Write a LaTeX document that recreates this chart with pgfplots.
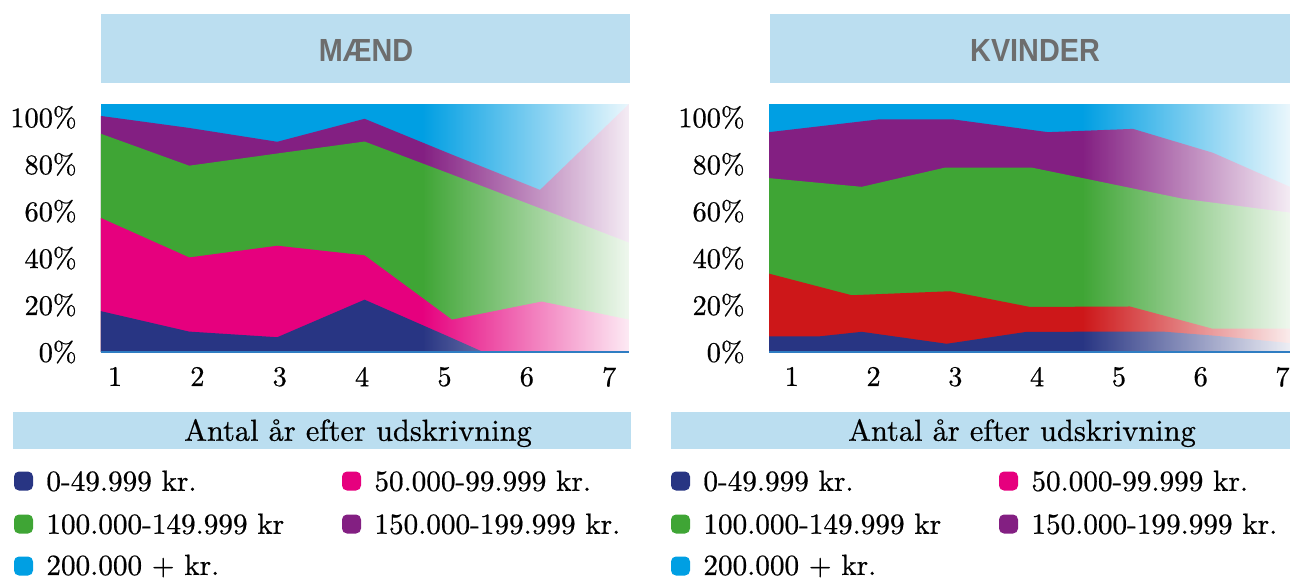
\documentclass[border=0pt]{standalone}
\usepackage{fontspec}
\setmainfont{lmroman10-regular.otf}[FakeBold=0.6]
\usepackage{graphicx}
\usepackage{pgfplots}
\pgfplotsset{compat=1.18}
\usetikzlibrary{fadings}
\newfontfamily\titlefont{Liberation Sans}
\definecolor{cdblue}{HTML}{283583}
\definecolor{cpink}{HTML}{E6007E}
\definecolor{cred}{HTML}{CD1719}
\definecolor{cgreen}{HTML}{3FA535}
\definecolor{cpurple}{HTML}{831F82}
\definecolor{clblue}{HTML}{009FE3}
\definecolor{cbox}{HTML}{BBDEF0}
\definecolor{ctitle}{HTML}{6D6D6D}
\definecolor{caxis}{HTML}{2F7DC2}
\tikzfading[name=fadeR, left color=transparent!100, right color=transparent!8]
\pgfplotsset{
  panel/.style={
    scale only axis, height=124pt,
    ymin=0, ymax=105.7,
    clip=false,
    axis line style={draw=none},
    major tick length=0pt,
    ytick={0,20,40,60,80,100},
    yticklabels={0\%,20\%,40\%,60\%,80\%,100\%},
    xtick={1,2,3,4,5,6,7},
    xticklabels={1,2,3,4,5,6,7},
    tick label style={font=\fontsize{14.2}{16}\selectfont},
    yticklabel style={anchor=east, inner sep=0pt, xshift=-12pt},
    xticklabel style={anchor=north, inner sep=0pt, yshift=-7.3pt},
  }
}
\newcommand\legitem[4]{%
  \fill[#3, rounded corners=2.5pt] (#1,#2-9.5) rectangle ++(19,19);
  \node[anchor=west, inner sep=0pt, font=\fontsize{14.6}{16}\selectfont] at (#1+32,#2) {#4};
}
\begin{document}
\begin{tikzpicture}
\useasboundingbox (0,0) rectangle (645pt,-290pt);
\begin{scope}[x=0.5pt,y=-0.5pt]
  \fill[cbox] (101,14) rectangle (630,83);
  \fill[cbox] (770,14) rectangle (1290,83);
  \node[text=ctitle, font=\titlefont\bfseries\fontsize{16}{16}\selectfont] at (366,50) {\scalebox{0.9}[1]{MÆND}};
  \node[text=ctitle, font=\titlefont\bfseries\fontsize{16}{16}\selectfont] at (1035,50) {\scalebox{0.9}[1]{KVINDER}};
  \fill[cbox] (13,412) rectangle (631,449);
  \fill[cbox] (671,412) rectangle (1290,449);
  \node[font=\fontsize{15.2}{17}\selectfont] at (358,433) {Antal år efter udskrivning};
  \node[font=\fontsize{15.2}{17}\selectfont] at (1022,433) {Antal år efter udskrivning};
  \foreach \dx in {0,657}{
    \legitem{14+\dx}{481}{cdblue}{0-49.999 kr.}
    \legitem{342+\dx}{481}{cpink}{50.000-99.999 kr.}
    \legitem{14+\dx}{524}{cgreen}{100.000-149.999 kr}
    \legitem{342+\dx}{524}{cpurple}{150.000-199.999 kr.}
    \legitem{14+\dx}{566}{clblue}{200.000 + kr.}
  }
\end{scope}

% ---------------- MAEND ----------------
\begin{axis}[panel, at={(50.5pt,-176pt)}, anchor=south west,
  width=264pt, xmin=0.83, xmax=7.24]
  % 200.000 + kr. (to the top)
  \addplot[fill=clblue, draw=none] coordinates {(0.83,105.7) (7.24,105.7)} \closedcycle;
  % top of 150.000-199.999
  \addplot[fill=cpurple, draw=none] coordinates {
    (0.83,100.6) (1.90,95.5) (2.97,89.6) (4.03,99.4) (5.10,84.0) (6.16,69.1) (7.24,105.7)} \closedcycle;
  % top of 100.000-149.999
  \addplot[fill=cgreen, draw=none] coordinates {
    (0.83,93.0) (1.90,79.4) (2.97,84.6) (4.03,89.7) (5.10,75.5) (6.17,61.1) (7.24,46.6)} \closedcycle;
  % top of 50.000-99.999
  \addplot[fill=cpink, draw=none] coordinates {
    (0.83,57.1) (1.90,40.3) (2.97,45.3) (4.03,41.2) (5.09,13.8) (6.18,21.5) (7.24,13.8)} \closedcycle;
  % top of 0-49.999
  \addplot[fill=cdblue, draw=none] coordinates {
    (0.83,17.4) (1.90,8.7) (2.97,6.3) (4.03,22.3) (5.10,5.8) (5.47,0) (6.17,0) (7.24,0)} \closedcycle;
  \fill[white, path fading=fadeR] (axis cs:4.73,0) rectangle (axis cs:7.24,105.7);
  \draw[caxis, line width=0.8pt] (axis cs:0.83,0) -- (axis cs:7.24,0);
\end{axis}

% ---------------- KVINDER ----------------
\begin{axis}[panel, at={(384.5pt,-176pt)}, anchor=south west,
  width=260.5pt, xmin=0.722, xmax=7.092]
  \addplot[fill=clblue, draw=none] coordinates {(0.722,105.7) (7.092,105.7)} \closedcycle;
  \addplot[fill=cpurple, draw=none] coordinates {
    (0.722,93.7) (2.079,99.2) (2.96,99.2) (4.133,93.7) (5.172,95.1) (6.15,84.9) (7.092,70.4)} \closedcycle;
  \addplot[fill=cgreen, draw=none] coordinates {
    (0.722,74.1) (1.856,70.4) (2.874,78.6) (3.934,78.6) (5.784,65.3) (7.092,59.4)} \closedcycle;
  \addplot[fill=cred, draw=none] coordinates {
    (0.722,33.4) (1.733,24.2) (2.935,25.9) (3.913,19.2) (5.135,19.4) (6.137,10.0) (7.092,10.0)} \closedcycle;
  \addplot[fill=cdblue, draw=none] coordinates {
    (0.722,6.7) (1.346,6.7) (1.856,8.6) (2.895,3.5) (3.873,8.6) (5.539,8.7) (6.15,7.0) (7.092,3.8)} \closedcycle;
  \fill[white, path fading=fadeR] (axis cs:4.55,0) rectangle (axis cs:7.092,105.7);
  \draw[caxis, line width=0.8pt] (axis cs:0.722,0) -- (axis cs:7.092,0);
\end{axis}
\end{tikzpicture}
\end{document}
